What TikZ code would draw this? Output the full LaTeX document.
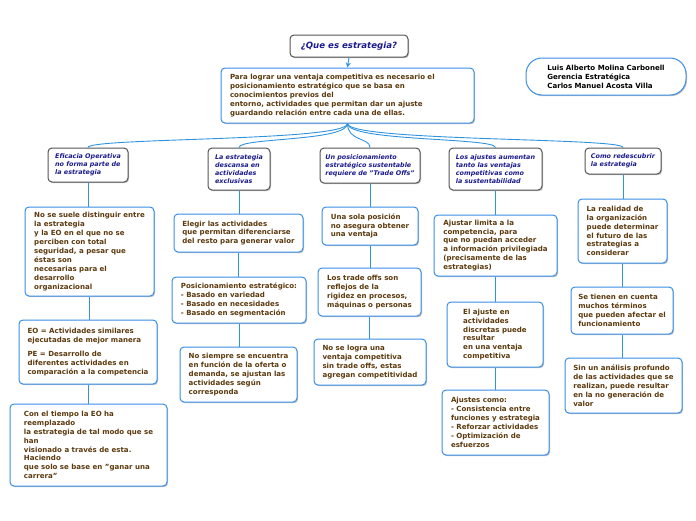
\documentclass[tikz,border=0pt]{standalone}
\usepackage{fontspec}
\setmainfont{DejaVu Sans}
\usetikzlibrary{shadows,arrows.meta}
\definecolor{boxblue}{HTML}{3A8EE6}
\definecolor{linkblue}{HTML}{2F93DD}
\definecolor{navyt}{HTML}{1A1A8E}
\definecolor{brownt}{HTML}{5C3A0E}
\definecolor{grayb}{HTML}{555555}
\tikzset{
  shad/.style={drop shadow={shadow xshift=1pt,shadow yshift=-1.2pt,opacity=0.25,fill=black}},
  leaf/.style={draw=boxblue,line width=1pt,rounded corners=4pt,fill=white,text=brownt,align=left,
     font=\fontsize{7.05}{8.9}\selectfont\bfseries,inner sep=0pt,shad},
  topic/.style={draw=grayb,line width=1pt,rounded corners=4pt,fill=white,text=navyt,align=left,
     font=\fontsize{6.4}{8.2}\selectfont\bfseries\itshape,inner sep=0pt,shad},
  conn/.style={draw=linkblue,line width=0.9pt}
}
\begin{document}
\begin{tikzpicture}[x=1pt,y=-1pt]
\useasboundingbox (0,0) rectangle (696,520);
% title and main
\node[topic,font=\fontsize{8.6}{10}\selectfont\bfseries\itshape,minimum width=118,minimum height=22] (title) at (349,46) {¿Que es estrategia?};
\node[leaf,text width=235,minimum width=253,minimum height=55] (main) at (347.5,95.5) {Para lograr una ventaja competitiva es necesario el\\posicionamiento estratégico que se basa en\\conocimientos previos del\\entorno, actividades que permitan dar un ajuste\\guardando relación entre cada una de ellas.};
\node[leaf,text=black,rounded corners=16pt,minimum width=160,minimum height=37] (auth) at (606,76.5) {Luis Alberto Molina Carbonell\\Gerencia Estratégica\\Carlos Manuel Acosta Villa};
% level one
\node[topic,minimum width=80,minimum height=34] (A1) at (88,165) {Eficacia Operativa\\no forma parte de\\la estrategia};
\node[topic,minimum width=62,minimum height=42] (A2) at (239,169) {La estrategia\\descansa en\\actividades\\exclusivas};
\node[topic,minimum width=100,minimum height=35] (A3) at (370,165.5) {Un posicionamiento\\estratégico sustentable\\requiere de "Trade Offs"};
\node[topic,minimum width=93,minimum height=42] (A4) at (495.5,169) {Los ajustes aumentan\\tanto las ventajas\\competitivas como\\la sustentabilidad};
\node[topic,minimum width=76,minimum height=26] (A5) at (623,161) {Como redescubrir\\la estrategia};
% column 1
\node[leaf,minimum width=129,minimum height=89] (B1) at (89.5,251.5) {No se suele distinguir entre\\la estrategia\\y la EO en el que no se\\perciben con total\\seguridad, a pesar que\\éstas son\\necesarias para el\\desarrollo\\organizacional};
\node[leaf,minimum width=138,minimum height=64] (B2) at (88,352) {EO = Actividades similares\\ejecutadas de mejor manera\\[6pt]PE = Desarrollo de\\diferentes actividades en\\comparación a la competencia};
\node[leaf,minimum width=157,minimum height=82] (B3) at (88.5,445) {Con el tiempo la EO ha\\reemplazado\\la estrategia de tal modo que se\\han\\visionado a través de esta.\\Haciendo\\que solo se base en "ganar una\\carrera"};
% column 2
\node[leaf,minimum width=129,minimum height=38] (C1) at (238.5,233) {Elegir las actividades\\que permitan diferenciarse\\del resto para generar valor};
\node[leaf,minimum width=134,minimum height=46] (C2) at (239,300) {Posicionamiento estratégico:\\- Basado en variedad\\- Basado en necesidades\\- Basado en segmentación};
\node[leaf,minimum width=117,minimum height=55] (C3) at (238.5,374.5) {No siempre se encuentra\\en función de la oferta o\\demanda, se ajustan las\\actividades según\\corresponda};
% column 3
\node[leaf,minimum width=96,minimum height=38] (D1) at (370,226) {Una sola posición\\no asegura obtener\\una ventaja};
\node[leaf,minimum width=103,minimum height=48] (D2) at (369.5,292) {Los trade offs son\\reflejos de la\\rigidez en procesos,\\máquinas o personas};
\node[leaf,minimum width=112,minimum height=46] (D3) at (370,362) {No se logra una\\ventaja competitiva\\sin trade offs, estas\\agregan competitividad};
% column 4
\node[leaf,minimum width=123,minimum height=61] (E1) at (495.5,245.5) {Ajustar limita a la\\competencia, para\\que no puedan acceder\\a información privilegiada\\(precisamente de las\\estrategias)};
\node[leaf,minimum width=96,minimum height=65] (E2) at (495,334.5) {El ajuste en\\actividades\\discretas puede\\resultar\\en una ventaja\\competitiva};
\node[leaf,minimum width=107,minimum height=65] (E3) at (495.5,422.5) {Ajustes como:\\- Consistencia entre\\funciones y estrategia\\- Reforzar actividades\\- Optimización de\\esfuerzos};
% column 5
\node[leaf,minimum width=89,minimum height=64] (F1) at (622.5,231) {La realidad de\\la organización\\puede determinar\\el futuro de las\\estrategias a\\considerar};
\node[leaf,minimum width=102,minimum height=47] (F2) at (622,310.5) {Se tienen en cuenta\\muchos términos\\que pueden afectar el\\funcionamiento};
\node[leaf,minimum width=117,minimum height=55] (F3) at (623.5,385.5) {Sin un análisis profundo\\de las actividades que se\\realizan, puede resultar\\en la no generación de\\valor};
% connectors
\draw[conn,-{Stealth[length=5pt,width=5pt]}] (title.south) -- (main.north);
\foreach \a in {A1,A2,A3,A4,A5}{
  \draw[conn] (main.south) .. controls +(0,18) and +(0,-10) .. (\a.north);
}
\foreach \a/\b in {A1/B1,B1/B2,B2/B3,A2/C1,C1/C2,C2/C3,A3/D1,D1/D2,D2/D3,A4/E1,E1/E2,E2/E3,A5/F1,F1/F2,F2/F3}{
  \draw[conn] (\a.south) -- (\a.south |- \b.north);
}
\end{tikzpicture}
\end{document}
